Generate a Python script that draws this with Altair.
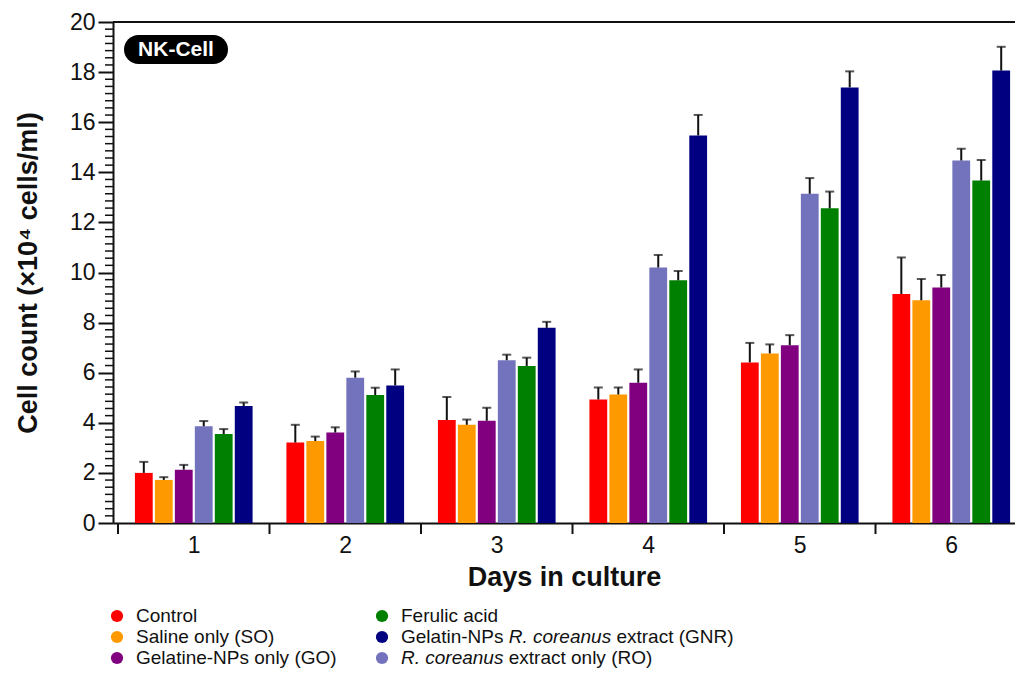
import altair as alt
import pandas as pd

# ---- data -------------------------------------------------------------
days = [1, 2, 3, 4, 5, 6]
series = [
    "Control",
    "Saline only (SO)",
    "Gelatine-NPs only (GO)",
    "R. coreanus extract only (RO)",
    "Ferulic acid",
    "Gelatin-NPs R. coreanus extract (GNR)",
]
colors = ["#ff0000", "#ff9900", "#800080", "#7373bd", "#008000", "#000080"]

# mean cell counts (x10^4 cells/ml) per day
control = [2.00, 3.21, 4.11, 4.93, 6.41, 9.14]
saline = [1.72, 3.27, 3.92, 5.13, 6.77, 8.89]
gelatine = [2.13, 3.61, 4.08, 5.60, 7.10, 9.40]
coreanus = [3.86, 5.80, 6.50, 10.20, 13.14, 14.47]
ferulic = [3.55, 5.11, 6.27, 9.69, 12.56, 13.67]
gnr = [4.67, 5.49, 7.79, 15.47, 17.39, 18.06]

# standard deviations (upper error bars)
control_sd = [0.44, 0.71, 0.92, 0.48, 0.78, 1.46]
saline_sd = [0.11, 0.18, 0.21, 0.28, 0.36, 0.85]
gelatine_sd = [0.19, 0.21, 0.52, 0.53, 0.40, 0.50]
coreanus_sd = [0.21, 0.25, 0.22, 0.50, 0.63, 0.47]
ferulic_sd = [0.20, 0.29, 0.33, 0.37, 0.67, 0.82]
gnr_sd = [0.14, 0.64, 0.24, 0.82, 0.64, 0.95]

y_ticks = [0, 2, 4, 6, 8, 10, 12, 14, 16, 18, 20]

means = [control, saline, gelatine, coreanus, ferulic, gnr]
sds = [control_sd, saline_sd, gelatine_sd, coreanus_sd, ferulic_sd, gnr_sd]

rows = []
for i, (name, m, s) in enumerate(zip(series, means, sds)):
    for d, v, e in zip(days, m, s):
        rows.append({"day": d, "series": name, "idx": i, "value": v, "err": e})
df = pd.DataFrame(rows)

# ---- layout -----------------------------------------------------------
FONT = "Liberation Sans, Arial, sans-serif"
LEFT, TOP = 113, 22
PLOT_W, PLOT_H = 902, 501
STEP_PX = 153.2                      # width of one day on the x axis
SLOT = 20.2 / STEP_PX                # bar pitch inside a group
HALF = 9.0 / STEP_PX                 # half bar width
X_DOMAIN = [0.5, 0.5 + PLOT_W / STEP_PX]
X_TITLE = "Days in culture"
Y_TITLE = "Cell count (×10⁴ cells/ml)"

xscale = alt.Scale(domain=X_DOMAIN, nice=False, zero=False)
yscale = alt.Scale(domain=[0, 20], nice=False)

base = alt.Chart(df).transform_calculate(
    xc=f"datum.day + (datum.idx - 2.5) * {SLOT}",
    zero="0",
).transform_calculate(
    x0=f"datum.xc - {HALF}",
    x1=f"datum.xc + {HALF}",
    top="datum.value + datum.err",
)

bars = base.mark_bar(orient="vertical").encode(
    x=alt.X(
        "x0:Q",
        scale=xscale,
        title=X_TITLE,
        axis=alt.Axis(
            values=days, format="d", ticks=False, grid=False,
            domainColor="#111", domainWidth=2,
            labelFont=FONT, labelFontSize=23, labelColor="#111", labelPadding=11,
            titleFont=FONT, titleFontSize=27,
            titleFontWeight="bold", titleColor="#111", titlePadding=7,
        ),
    ),
    x2="x1:Q",
    y=alt.Y(
        "value:Q",
        scale=yscale,
        title=Y_TITLE,
        axis=alt.Axis(
            values=y_ticks, grid=False,
            domainColor="#111", domainWidth=2,
            tickColor="#111", tickWidth=2, tickSize=15,
            labelFont=FONT, labelFontSize=23, labelColor="#111", labelPadding=3,
            titleFont=FONT, titleFontSize=27,
            titleFontWeight="bold", titleColor="#111", titlePadding=27,
        ),
    ),
    y2="zero:Q",
    color=alt.Color("series:N", scale=alt.Scale(domain=series, range=colors), legend=None),
)

err_lines = base.mark_rule(color="#111", strokeWidth=2).encode(
    x=alt.X("xc:Q", scale=xscale, title=X_TITLE),
    y=alt.Y("value:Q", scale=yscale, title=Y_TITLE),
    y2="top:Q",
)

err_caps = base.mark_tick(orient="horizontal", color="#111", size=9, thickness=2).encode(
    x=alt.X("xc:Q", scale=xscale, title=X_TITLE),
    y=alt.Y("top:Q", scale=yscale, title=Y_TITLE),
)

# tick marks between day groups on the x axis
bounds = pd.DataFrame({"b": [d - 0.5 for d in days]})
x_ticks = alt.Chart(bounds).mark_rule(color="#111", strokeWidth=2).encode(
    x=alt.X("b:Q", scale=xscale, title=X_TITLE),
    y=alt.value(PLOT_H),
    y2=alt.value(PLOT_H + 11),
)

# minor ticks on the y axis (six between labelled ticks)
minor = pd.DataFrame({"m": [k * 2 / 7 for k in range(71) if k % 7]})
y_minor = alt.Chart(minor).mark_rule(color="#111", strokeWidth=1.5).encode(
    y=alt.Y("m:Q", scale=yscale, title=Y_TITLE),
    x=alt.value(-8),
    x2=alt.value(0),
)

# top frame line
frame = pd.DataFrame({"v": [20]})
top_line = alt.Chart(frame).mark_rule(color="#111", strokeWidth=2).encode(
    y=alt.Y("v:Q", scale=yscale, title=Y_TITLE),
    x=alt.value(0),
    x2=alt.value(PLOT_W),
)

# panel badge
badge_df = pd.DataFrame({"t": ["NK-Cell"]})
badge = alt.Chart(badge_df).mark_rect(color="black", cornerRadius=14.5).encode(
    x=alt.value(11), x2=alt.value(115), y=alt.value(13), y2=alt.value(42),
)
badge_text = alt.Chart(badge_df).mark_text(
    color="white", font=FONT, fontSize=21, fontWeight="bold", baseline="middle"
).encode(x=alt.value(63), y=alt.value(28), text="t:N")

# ---- legend (two columns below the plot) -------------------------------
LEG_FS = 19
col_x = [117, 382]
row_y = [616, 637, 658]
legend_order = [0, 1, 2, 4, 5, 3]
# text pieces: (text, italic, offset in em)
pieces = {
    0: [("Control", False, 0)],
    1: [("Saline only (SO)", False, 0)],
    2: [("Gelatine-NPs only (GO)", False, 0)],
    4: [("Ferulic acid", False, 0)],
    5: [("Gelatin-NPs", False, 0), ("R. coreanus", True, 5.668), ("extract (GNR)", False, 11.337)],
    3: [("R. coreanus", True, 0), ("extract only (RO)", False, 5.669)],
}
dots, texts = [], []
for pos, s in enumerate(legend_order):
    col, row = divmod(pos, 3)
    cx = col_x[col] - LEFT
    cy = row_y[row] - TOP
    dots.append({"c": colors[s], "cx": cx, "cy": cy})
    for txt, ital, em in pieces[s]:
        texts.append({"t": txt, "style": "italic" if ital else "normal",
                      "tx": cx + 19 + em * LEG_FS, "ty": cy})

leg_layers = []
for d in dots:
    leg_layers.append(
        alt.Chart(pd.DataFrame([d])).mark_circle(size=150, opacity=1, color=d["c"]).encode(
            x=alt.value(d["cx"]), y=alt.value(d["cy"])
        )
    )
for t in texts:
    leg_layers.append(
        alt.Chart(pd.DataFrame([t])).mark_text(
            align="left", baseline="middle", font=FONT, fontSize=LEG_FS, color="#111",
            fontStyle=t["style"],
        ).encode(x=alt.value(t["tx"]), y=alt.value(t["ty"]), text="t:N")
    )

chart = alt.layer(
    bars, err_lines, err_caps, x_ticks, y_minor, top_line,
    badge, badge_text, *leg_layers,
).properties(
    width=PLOT_W,
    height=PLOT_H,
    padding={"left": LEFT, "top": TOP, "right": 0, "bottom": 677 - TOP - PLOT_H},
    autosize=alt.AutoSizeParams(type="none"),
    background="white",
).configure_view(stroke=None)

chart.save("out.html", embed_options={"renderer": "svg", "actions": False})
